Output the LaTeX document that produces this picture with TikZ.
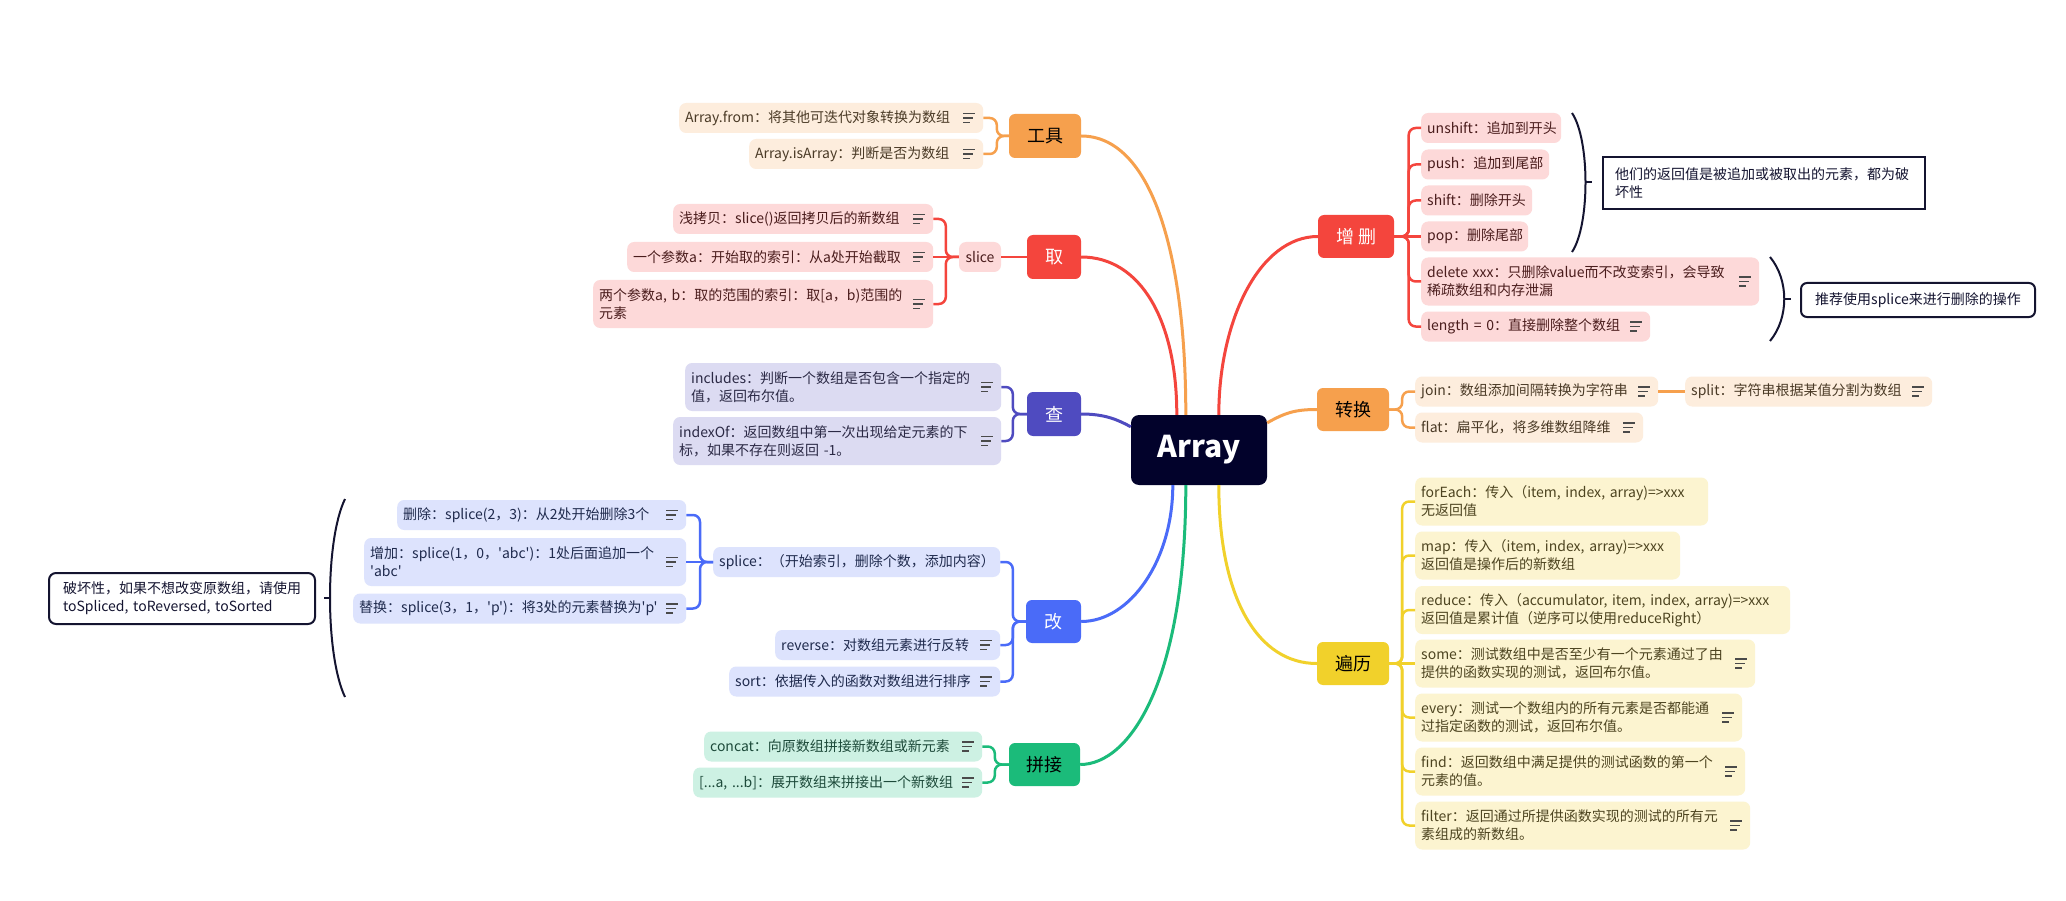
\documentclass[tikz,border=0pt]{standalone}
\usepackage{fontspec}
\setmainfont{Noto Sans CJK SC}[Ligatures=TeXOff]
\usetikzlibrary{calc}
\definecolor{cO}{HTML}{F6A04D}
\definecolor{cR}{HTML}{F4453D}
\definecolor{cP}{HTML}{4F4BC0}
\definecolor{cB}{HTML}{4A6BF8}
\definecolor{cG}{HTML}{1BBB7A}
\definecolor{cY}{HTML}{F1D12B}
\definecolor{cRoot}{HTML}{02022B}
\definecolor{fO}{HTML}{FDEDDD}
\definecolor{fR}{HTML}{FDD9D9}
\definecolor{fP}{HTML}{DCDBF2}
\definecolor{fB}{HTML}{DDE3FD}
\definecolor{fG}{HTML}{CDF1E3}
\definecolor{fY}{HTML}{FCF4D0}
\definecolor{tO}{HTML}{4A3A26}
\definecolor{tR}{HTML}{4A1C1C}
\definecolor{tP}{HTML}{2B2945}
\definecolor{tB}{HTML}{1F2A4D}
\definecolor{tG}{HTML}{1D4A3A}
\definecolor{tY}{HTML}{4D4420}
\definecolor{ink}{HTML}{141430}
\definecolor{iconc}{HTML}{4A4A4A}
\tikzset{
  leaf/.style={rounded corners=7pt, inner xsep=6pt, inner ysep=0pt, anchor=west, align=left,
    font=\fontsize{14pt}{18pt}\selectfont, minimum height=30pt},
  two/.style={minimum height=48pt},
  lO/.style={leaf, fill=fO, text=tO},
  lR/.style={leaf, fill=fR, text=tR},
  lP/.style={leaf, fill=fP, text=tP},
  lB/.style={leaf, fill=fB, text=tB},
  lG/.style={leaf, fill=fG, text=tG},
  lY/.style={leaf, fill=fY, text=tY},
  branch/.style={rounded corners=6pt, inner sep=0pt, font=\fontsize{18pt}{22pt}\selectfont, minimum height=44pt},
  sub/.style={line width=2.5pt, rounded corners=7pt},
  trunk/.style={line width=3pt},
  bracestyle/.style={line width=2pt, draw=ink},
  notebox/.style={draw=ink, line width=2pt, fill=white, font=\fontsize{14pt}{18pt}\selectfont, text=ink},
  noteicon/.pic={\draw[line width=1.3pt, iconc] (0,-4.5) -- (12,-4.5) (0,0) -- (10,0) (0,4.5) -- (7,4.5);}
}
\begin{document}
\begin{tikzpicture}[x=1pt,y=-1pt]
\fill[white] (0,0) rectangle (2066,901);
\useasboundingbox (0,0) rectangle (2066,901);

% root
\node[rounded corners=8pt, fill=cRoot, text=white, minimum width=136pt, minimum height=70pt, inner sep=0pt,
  font=\fontsize{30pt}{36pt}\selectfont\bfseries] (root) at (1199,450) {Array};

% branches
\node[branch, fill=cO, text=black, minimum width=72pt] (gongju) at (1045,136) {工具};
\node[branch, fill=cR, text=white, minimum width=54pt] (qu) at (1054,257) {取};
\node[branch, fill=cP, text=white, minimum width=54pt] (cha) at (1054,414) {查};
\node[branch, fill=cB, text=white, minimum width=55pt, minimum height=43pt] (gai) at (1053.5,621.5) {改};
\node[branch, fill=cG, text=black, minimum width=71pt, minimum height=43pt] (pinjie) at (1044.5,764.5) {拼接};
\node[branch, fill=cR, text=white, minimum width=76pt, minimum height=43pt] (zengshan) at (1356,236.5) {增 删};
\node[branch, fill=cO, text=black, minimum width=72pt, minimum height=43pt] (zhuanhuan) at (1353,409.5) {转换};
\node[branch, fill=cY, text=black, minimum width=72pt, minimum height=43pt] (bianli) at (1353,663.5) {遍历};

% 工具 leaves
\node[lO, text width=292pt] (from) at (679,118) {Array.from：将其他可迭代对象转换为数组};
\node[lO, text width=222pt] (isArray) at (749,154) {Array.isArray：判断是否为数组};
% 取 leaves
\node[lR, inner xsep=0pt, minimum width=42pt, align=center, anchor=center] (slice) at (980,257) {slice};
\node[lR, text width=248pt] (qian) at (673,219) {浅拷贝：slice()返回拷贝后的新数组};
\node[lR, text width=294pt] (one) at (627,257) {一个参数a：开始取的索引：从a处开始截取};
\node[lR, two, text width=328pt] (twop) at (593,304) {\mbox{两个参数a, b：取的范围的索引：取[a，b)范围的}\\元素};
% 查 leaves
\node[lP, two, text width=304pt] (includes) at (685,387) {includes：判断一个数组是否包含一个指定的\\值，返回布尔值。};
\node[lP, two, text width=316pt] (indexOf) at (673,441) {indexOf：返回数组中第一次出现给定元素的下\\\mbox{标，如果不存在则返回 -1。}};
% 改 leaves
\node[lB, text width=275pt] (splice) at (713,562) {splice：（开始索引，删除个数，添加内容）};
\node[lB, text width=277pt] (del) at (397,515) {删除：splice(2，3)：从2处开始删除3个};
\node[lB, two, text width=310pt] (add) at (364,562) {增加：splice(1，0，'abc')：1处后面追加一个\\'abc'};
\node[lB, text width=321pt] (rep) at (353,608.5) {替换：splice(3，1，'p')：将3处的元素替换为'p'};
\node[lB, text width=213pt] (reverse) at (775,645) {reverse：对数组元素进行反转};
\node[lB, text width=259pt] (sort) at (729,681.5) {sort：依据传入的函数对数组进行排序};
% 拼接 leaves
\node[lG, text width=266pt] (concat) at (704,746.5) {concat：向原数组拼接新数组或新元素};
\node[lG, text width=277pt] (spread) at (693,782.5) {\mbox{[...a, ...b]：展开数组来拼接出一个新数组}};
% 增删 leaves
\node[lR, text width=128pt] (unshift) at (1421,128) {unshift：追加到开头};
\node[lR, text width=116pt] (push) at (1421,164.5) {push：追加到尾部};
\node[lR, text width=99pt] (shift) at (1421,200.5) {shift：删除开头};
\node[lR, text width=95pt] (pop) at (1421,236.5) {pop：删除尾部};
\node[lR, two, text width=326pt] (delete) at (1421,281.5) {\mbox{delete xxx：只删除value而不改变索引，会导致}\\稀疏数组和内存泄漏};
\node[lR, text width=217pt] (length) at (1421,326.5) {\mbox{length = 0：直接删除整个数组}};
% 转换 leaves
\node[lO, text width=231pt] (join) at (1415,391.5) {join：数组添加间隔转换为字符串};
\node[lO, text width=216pt] (flat) at (1415,427.5) {flat：扁平化，将多维数组降维};
\node[lO, text width=235pt] (split) at (1685,391.5) {split：字符串根据某值分割为数组};
% 遍历 leaves
\node[lY, two, text width=281pt] (forEach) at (1415,501.5) {\mbox{forEach：传入（item, index, array)=>xxx}\\无返回值};
\node[lY, two, text width=253pt] (map) at (1415,555.5) {\mbox{map：传入（item, index, array)=>xxx}\\返回值是操作后的新数组};
\node[lY, two, text width=363pt] (reduce) at (1415,610) {\mbox{reduce：传入（accumulator, item, index, array)=>xxx}\\返回值是累计值（逆序可以使用reduceRight）};
\node[lY, two, text width=328pt] (some) at (1415,663.5) {some：测试数组中是否至少有一个元素通过了由\\提供的函数实现的测试，返回布尔值。};
\node[lY, two, text width=315pt] (every) at (1415,717.5) {every：测试一个数组内的所有元素是否都能通\\过指定函数的测试，返回布尔值。};
\node[lY, two, text width=318pt] (find) at (1415,771.5) {find：返回数组中满足提供的测试函数的第一个\\元素的值。};
\node[lY, two, text width=323pt] (filter) at (1415,825.5) {filter：返回通过所提供函数实现的测试的所有元\\素组成的新数组。};

% note boxes
\node[notebox, text width=298pt, inner xsep=12pt, inner ysep=0pt, minimum height=52pt, align=left, anchor=west] (tamen) at (1602,183) {\mbox{他们的返回值是被追加或被取出的元素，都为破}\\坏性};
\node[notebox, rounded corners=6pt, minimum width=234pt, minimum height=34pt, inner xsep=0pt, inner ysep=0pt, anchor=west] (tuijian) at (1800,300) {推荐使用splice来进行删除的操作};
\node[notebox, rounded corners=7pt, text width=238pt, inner xsep=14pt, inner ysep=0pt, minimum height=51pt, align=left, anchor=west] (pohuai) at (48,598.5) {\mbox{破坏性，如果不想改变原数组，请使用}\\\mbox{toSpliced, toReversed, toSorted}};

% note icons
\foreach \n in {from,isArray,qian,one,twop,includes,indexOf,del,add,rep,reverse,sort,concat,spread,delete,length,join,flat,split,some,every,find,filter}
  \pic at ($(\n.east)+(-20,0)$) {noteicon};

% root connectors
\coordinate (rA) at ($(root.north west)+(55,0)$);
\coordinate (rB) at ($(root.north west)+(46,0)$);
\coordinate (rC) at ($(root.north west)+(88,0)$);
\coordinate (rD) at ($(root.north west)+(0,12)$);
\coordinate (rE) at ($(root.north east)+(0,8)$);
\coordinate (rF) at ($(root.south west)+(42,0)$);
\coordinate (rG) at ($(root.south west)+(55,0)$);
\coordinate (rH) at ($(root.south west)+(88,0)$);
\draw[trunk, cO] (rA) .. controls +(0,-165) and +(69,0) .. (gongju.east);
\draw[trunk, cR] (rB) .. controls +(0,-95) and +(59,0) .. (qu.east);
\draw[trunk, cR] (rC) .. controls +(0,-95) and +(-58,0) .. (zengshan.west);
\draw[trunk, cP] (rD) .. controls +(-13,-7) and +(24,0) .. (cha.east);
\draw[trunk, cO] (rE) .. controls +(18,-10) and +(-22,0) .. (zhuanhuan.west);
\draw[trunk, cB] (rF) .. controls +(0,75) and +(49,0) .. (gai.east);
\draw[trunk, cG] (rG) .. controls +(0,195) and +(50,0) .. (pinjie.east);
\draw[trunk, cY] (rH) .. controls +(0,115) and +(-58,0) .. (bianli.west);

% sub connectors
\foreach \c in {from,isArray} \draw[sub, cO] (gongju.west) -- ++(-12,0) |- (\c.east);
\draw[sub, cR] (qu.west) -- (slice.east);
\foreach \c in {qian,twop} \draw[sub, cR] (slice.west) -- ++(-13,0) |- (\c.east);
\draw[sub, cR] (slice.west) -- (one.east);
\foreach \c in {includes,indexOf} \draw[sub, cP] (cha.west) -- ++(-14,0) |- (\c.east);
\foreach \c in {splice,reverse,sort} \draw[sub, cB] (gai.west) -- ++(-13,0) |- (\c.east);
\foreach \c in {del,rep} \draw[sub, cB] (splice.west) -- ++(-13,0) |- (\c.east);
\draw[sub, cB] (splice.west) -- (add.east);
\foreach \c in {concat,spread} \draw[sub, cG] (pinjie.west) -- ++(-14,0) |- (\c.east);
\foreach \c in {unshift,push,shift,delete,length} \draw[sub, cR] (zengshan.east) -- ++(14.5,0) |- (\c.west);
\draw[sub, cR] (zengshan.east) -- (pop.west);
\foreach \c in {join,flat} \draw[sub, cO] (zhuanhuan.east) -- ++(13,0) |- (\c.west);
\draw[sub, cO] (join.east) -- (split.west);
\foreach \c in {forEach,map,reduce,every,find,filter} \draw[sub, cY] (bianli.east) -- ++(13,0) |- (\c.west);
\draw[sub, cY] (bianli.east) -- (some.west);

% braces
\draw[bracestyle] (1572,113) .. controls (1590,140) and (1590,225) .. (1572,252);
\draw[bracestyle] (1585.5,182.5) -- (1592,182.5);
\draw[bracestyle] (1770,257) .. controls (1789,280) and (1789,318) .. (1770,341);
\draw[bracestyle] (1784,299) -- (1791,299);
\draw[bracestyle] (345,499) .. controls (325,540) and (325,655) .. (345,697);
\draw[bracestyle] (330,598) -- (324,598);
\end{tikzpicture}
\end{document}
